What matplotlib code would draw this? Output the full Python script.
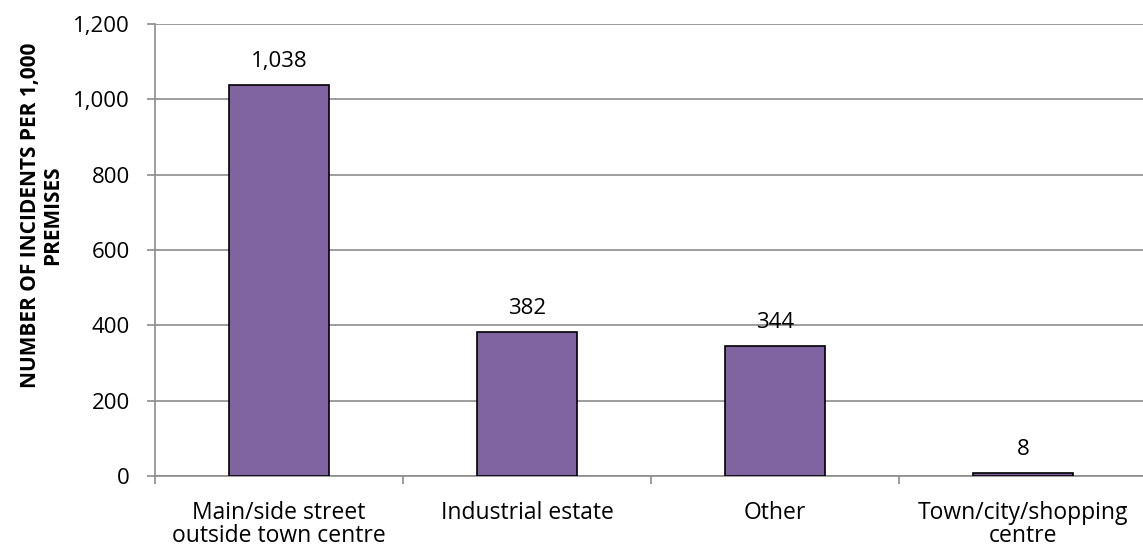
import numpy as np
import matplotlib.pyplot as plt
from matplotlib.ticker import FuncFormatter, MultipleLocator

plt.rcParams['font.family'] = ['Open Sans', 'DejaVu Sans']

# incidents per 1,000 premises by location type
categories = ['Main/side street\noutside town centre', 'Industrial estate',
              'Other', 'Town/city/shopping\ncentre']
incidents = [1038, 382, 344, 8]

fig = plt.figure(figsize=(11.43, 5.52), dpi=100)
ax = fig.add_axes([0.1356, 0.1377, 0.8680, 0.8188])

x = np.arange(len(categories))
bars = ax.bar(x, incidents, width=0.40, color='#8064A2',
              edgecolor='black', linewidth=1.2, zorder=3)

for b, v in zip(bars, incidents):
    ax.annotate(f'{v:,}', (b.get_x() + b.get_width() / 2, v),
                xytext=(0, 9.5), textcoords='offset points',
                ha='center', va='bottom', fontsize=16)

ax.set_xlim(-0.5, 3.5)
ax.set_ylim(0, 1200)
ax.yaxis.set_major_locator(MultipleLocator(200))
ax.yaxis.set_major_formatter(FuncFormatter(lambda v, p: f'{int(v):,}'))
ax.grid(axis='y', color='#8C8C8C', linewidth=1.2, zorder=0)

# category labels at bar centres, tick marks at category boundaries
ax.set_xticks(x)
ax.set_xticklabels(categories, fontsize=16.5, linespacing=0.97)
ax.tick_params(axis='x', length=0, pad=18)
ax.set_xticks(np.arange(-0.5, 4.0, 1.0), minor=True)
ax.tick_params(axis='x', which='minor', length=6, color='#8C8C8C', width=1.2)
ax.tick_params(axis='y', labelsize=16, length=6, color='#8C8C8C', width=1.2, pad=12)

for s in ['top', 'right']:
    ax.spines[s].set_visible(False)
for s in ['left', 'bottom']:
    ax.spines[s].set_color('#8C8C8C')
    ax.spines[s].set_linewidth(1.2)

ax.set_ylabel('NUMBER OF INCIDENTS PER 1,000\nPREMISES', fontsize=15,
              fontweight='bold', linespacing=1.05)
ax.yaxis.set_label_coords(-0.093, 0.577)

fig.savefig('out.png', dpi=100)
